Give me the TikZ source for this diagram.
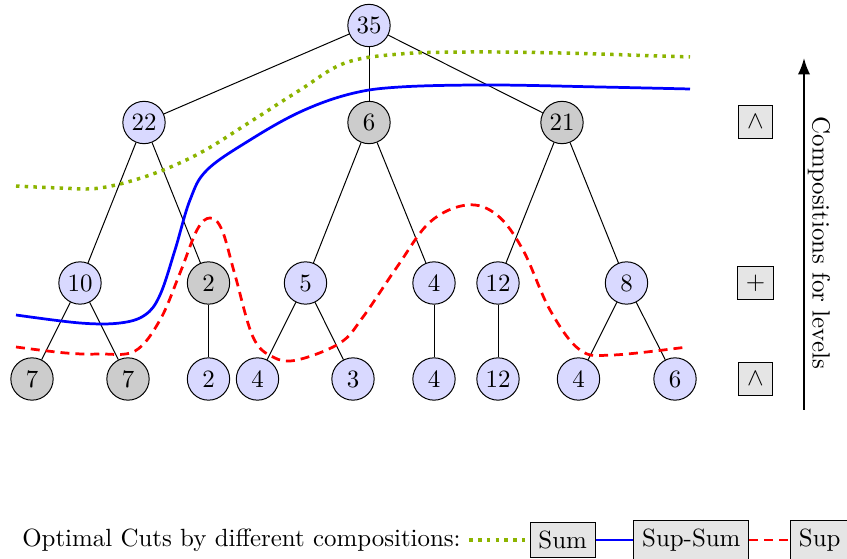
\documentclass[tikz,border=0pt]{standalone}
\usetikzlibrary{arrows.meta}
\definecolor{cutgreen}{RGB}{140,180,0}
\begin{document}
\begin{tikzpicture}[x=0.4016pt,y=-0.4016pt,
  bn/.style={circle,draw,fill=blue!15,minimum size=17pt,inner sep=1pt},
  gn/.style={circle,draw,fill=black!20,minimum size=17pt,inner sep=1pt},
  opbox/.style={draw,fill=black!10,minimum height=13.2pt,minimum width=13.2pt},
  legbox/.style={draw,fill=black!10},
  sumcut/.style={cutgreen,line width=1.4pt,dash pattern=on 1.4pt off 2.1pt},
  supsumcut/.style={blue,line width=1.1pt},
  supcut/.style={red,line width=1.1pt,dash pattern=on 3.6pt off 2.4pt}]
\useasboundingbox (0,0) rectangle (847,559);
% tree nodes
\node[bn] (r) at (369,25.5) {35};
\node[bn] (a) at (144,122.5) {22};
\node[gn] (b) at (369,122.5) {6};
\node[gn] (c) at (562,122.5) {21};
\node[bn] (a1) at (80,283) {10};
\node[gn] (a2) at (208.5,283) {2};
\node[bn] (b1) at (305.5,283) {5};
\node[bn] (b2) at (434,283) {4};
\node[bn] (c1) at (498,283) {12};
\node[bn] (c2) at (626.5,283) {8};
\node[gn] (l1) at (32,379) {7};
\node[gn] (l2) at (128,379) {7};
\node[bn] (l3) at (208.5,379) {2};
\node[bn] (l4) at (257.5,379) {4};
\node[bn] (l5) at (353,379) {3};
\node[bn] (l6) at (434,379) {4};
\node[bn] (l7) at (498,379) {12};
\node[bn] (l8) at (578.5,379) {4};
\node[bn] (l9) at (675,379) {6};
% edges
\draw (r) -- (a); \draw (r) -- (b); \draw (r) -- (c);
\draw (a) -- (a1); \draw (a) -- (a2);
\draw (b) -- (b1); \draw (b) -- (b2);
\draw (c) -- (c1); \draw (c) -- (c2);
\draw (a1) -- (l1); \draw (a1) -- (l2);
\draw (a2) -- (l3);
\draw (b1) -- (l4); \draw (b1) -- (l5);
\draw (b2) -- (l6);
\draw (c1) -- (l7);
\draw (c2) -- (l8); \draw (c2) -- (l9);
% cuts
\draw[sumcut] plot[smooth,tension=0.6] coordinates {(16,186) (60,188) (100,188) (150,175) (200,153) (250,122) (300,90) (345,63) (400,54) (470,52) (560,53) (690,57)};
\draw[supsumcut] plot[smooth,tension=0.6] coordinates {(16,315) (80,323) (120,323) (145,315) (160,295) (175,250) (190,200) (207,170) (250,140) (300,112) (350,94) (400,87) (490,85) (600,87) (690,89)};
\draw[supcut] plot[smooth,tension=0.6] coordinates {(16,347) (66,353) (100,354) (135,351) (160,320) (180,273) (197,230) (210,218) (222,230) (235,275) (253,337) (273,357) (297,360) (340,343) (363,317) (397,267) (430,222) (467,205) (497,215) (523,250) (550,310) (580,350) (613,355) (687,347)};
% operators
\node[opbox] (o1) at (755.5,122) {$\wedge$};
\node[opbox] (o2) at (755.5,283) {$+$};
\node[opbox] (o3) at (755.5,379) {$\wedge$};
\coordinate (ab) at (804,410);
\coordinate (at) at (804,58);
\draw[thick,-{Latex}] (ab) -- (at);
\node[rotate=-90] (lev) at (819,243) {Compositions for levels};
% legend
\node (lt) at (241.5,540) {Optimal Cuts by different compositions:};
\node[legbox] (s1) at (562.7,540) {Sum};
\node[legbox] (s2) at (691.3,540) {Sup-Sum};
\node[legbox] (s3) at (819.7,540) {Sup};
\draw[sumcut] (lt) -- (s1);
\draw[supsumcut] (s1) -- (s2);
\draw[supcut] (s2) -- (s3);
\end{tikzpicture}
\end{document}
